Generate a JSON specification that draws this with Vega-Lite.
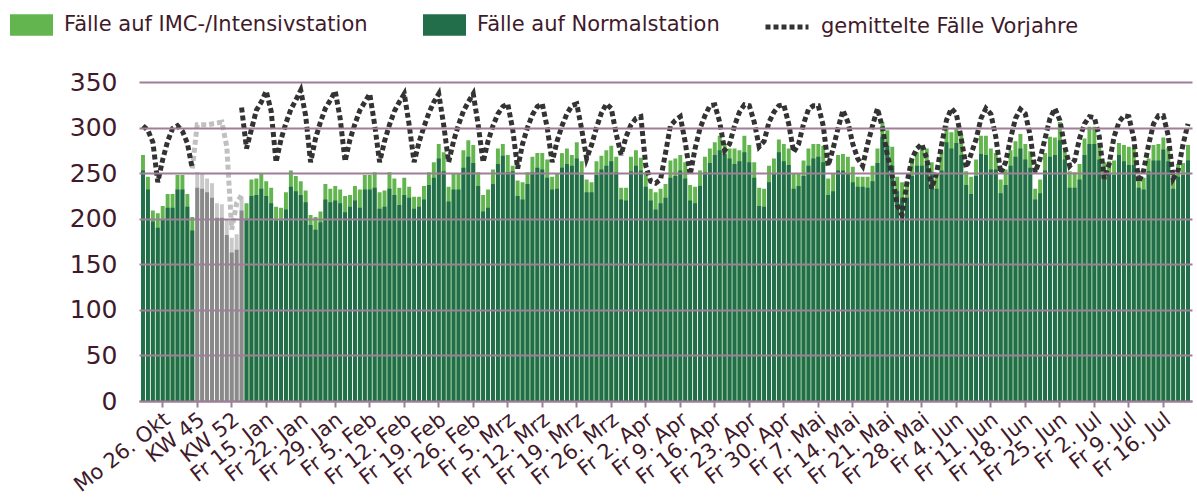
{
  "$schema": "https://vega.github.io/schema/vega-lite/v6.json",
  "width": 1053,
  "height": 319,
  "autosize": {"type": "none"},
  "padding": {"left": 139, "top": 82, "right": 5, "bottom": 96},
  "background": "white",
  "config": {
    "view": {"stroke": null},
    "font": "DejaVu Sans",
    "axis": {"labelFont": "DejaVu Sans", "labelColor": "#3f1a2b"},
    "legend": {"labelFont": "DejaVu Sans", "labelColor": "#3f1a2b"}
  },
  "data": {"values": [
    {"i":0,"tag":"Do 22. Okt","art":"Tag","normal":253,"gesamt":270,"vj":302,"vjg":null},
    {"i":1,"tag":"Fr 23. Okt","art":"Tag","normal":232,"gesamt":246,"vj":297,"vjg":null},
    {"i":2,"tag":"Sa 24. Okt","art":"Tag","normal":197,"gesamt":209,"vj":284,"vjg":null},
    {"i":3,"tag":"So 25. Okt","art":"Tag","normal":190,"gesamt":206,"vj":240,"vjg":null},
    {"i":4,"tag":"Mo 26. Okt","art":"Tag","normal":199,"gesamt":214,"vj":265,"vjg":null},
    {"i":5,"tag":"Di 27. Okt","art":"Tag","normal":212,"gesamt":227,"vj":285,"vjg":null},
    {"i":6,"tag":"Mi 28. Okt","art":"Tag","normal":212,"gesamt":227,"vj":299,"vjg":null},
    {"i":7,"tag":"Do 29. Okt","art":"Tag","normal":232,"gesamt":248,"vj":302,"vjg":null},
    {"i":8,"tag":"Fr 30. Okt","art":"Tag","normal":232,"gesamt":248,"vj":296,"vjg":null},
    {"i":9,"tag":"Sa 31. Okt","art":"Tag","normal":213,"gesamt":227,"vj":283,"vjg":null},
    {"i":10,"tag":"So 1. Nov","art":"Tag","normal":187,"gesamt":202,"vj":255,"vjg":255},
    {"i":11,"tag":"KW 45","art":"KW","normal":234,"gesamt":251,"vj":null,"vjg":303},
    {"i":12,"tag":"KW 46","art":"KW","normal":233,"gesamt":249,"vj":null,"vjg":303},
    {"i":13,"tag":"KW 47","art":"KW","normal":229,"gesamt":244,"vj":null,"vjg":303},
    {"i":14,"tag":"KW 48","art":"KW","normal":223,"gesamt":239,"vj":null,"vjg":304},
    {"i":15,"tag":"KW 49","art":"KW","normal":201,"gesamt":217,"vj":null,"vjg":305},
    {"i":16,"tag":"KW 50","art":"KW","normal":201,"gesamt":216,"vj":null,"vjg":306},
    {"i":17,"tag":"KW 51","art":"KW","normal":182,"gesamt":199,"vj":null,"vjg":279},
    {"i":18,"tag":"KW 52","art":"KW","normal":163,"gesamt":179,"vj":null,"vjg":188},
    {"i":19,"tag":"KW 53","art":"KW","normal":166,"gesamt":183,"vj":null,"vjg":217},
    {"i":20,"tag":"KW 1","art":"KW","normal":209,"gesamt":224,"vj":322,"vjg":226},
    {"i":21,"tag":"Mo 11. Jan","art":"Tag","normal":200,"gesamt":217,"vj":277,"vjg":null},
    {"i":22,"tag":"Di 12. Jan","art":"Tag","normal":225,"gesamt":243,"vj":298,"vjg":null},
    {"i":23,"tag":"Mi 13. Jan","art":"Tag","normal":226,"gesamt":244,"vj":319,"vjg":null},
    {"i":24,"tag":"Do 14. Jan","art":"Tag","normal":233,"gesamt":250,"vj":328,"vjg":null},
    {"i":25,"tag":"Fr 15. Jan","art":"Tag","normal":225,"gesamt":241,"vj":340,"vjg":null},
    {"i":26,"tag":"Sa 16. Jan","art":"Tag","normal":217,"gesamt":234,"vj":318,"vjg":null},
    {"i":27,"tag":"So 17. Jan","art":"Tag","normal":198,"gesamt":213,"vj":262,"vjg":null},
    {"i":28,"tag":"Mo 18. Jan","art":"Tag","normal":198,"gesamt":212,"vj":287,"vjg":null},
    {"i":29,"tag":"Di 19. Jan","art":"Tag","normal":210,"gesamt":229,"vj":305,"vjg":null},
    {"i":30,"tag":"Mi 20. Jan","art":"Tag","normal":235,"gesamt":253,"vj":320,"vjg":null},
    {"i":31,"tag":"Do 21. Jan","art":"Tag","normal":230,"gesamt":247,"vj":330,"vjg":null},
    {"i":32,"tag":"Fr 22. Jan","art":"Tag","normal":226,"gesamt":241,"vj":341,"vjg":null},
    {"i":33,"tag":"Sa 23. Jan","art":"Tag","normal":218,"gesamt":231,"vj":313,"vjg":null},
    {"i":34,"tag":"So 24. Jan","art":"Tag","normal":193,"gesamt":204,"vj":262,"vjg":null},
    {"i":35,"tag":"Mo 25. Jan","art":"Tag","normal":188,"gesamt":202,"vj":288,"vjg":null},
    {"i":36,"tag":"Di 26. Jan","art":"Tag","normal":196,"gesamt":208,"vj":306,"vjg":null},
    {"i":37,"tag":"Mi 27. Jan","art":"Tag","normal":221,"gesamt":238,"vj":321,"vjg":null},
    {"i":38,"tag":"Do 28. Jan","art":"Tag","normal":218,"gesamt":233,"vj":330,"vjg":null},
    {"i":39,"tag":"Fr 29. Jan","art":"Tag","normal":220,"gesamt":236,"vj":340,"vjg":null},
    {"i":40,"tag":"Sa 30. Jan","art":"Tag","normal":217,"gesamt":232,"vj":310,"vjg":null},
    {"i":41,"tag":"So 31. Jan","art":"Tag","normal":207,"gesamt":225,"vj":263,"vjg":null},
    {"i":42,"tag":"Mo 1. Feb","art":"Tag","normal":213,"gesamt":226,"vj":287,"vjg":null},
    {"i":43,"tag":"Di 2. Feb","art":"Tag","normal":220,"gesamt":236,"vj":304,"vjg":null},
    {"i":44,"tag":"Mi 3. Feb","art":"Tag","normal":212,"gesamt":232,"vj":319,"vjg":null},
    {"i":45,"tag":"Do 4. Feb","art":"Tag","normal":232,"gesamt":248,"vj":328,"vjg":null},
    {"i":46,"tag":"Fr 5. Feb","art":"Tag","normal":232,"gesamt":248,"vj":337,"vjg":null},
    {"i":47,"tag":"Sa 6. Feb","art":"Tag","normal":234,"gesamt":251,"vj":303,"vjg":null},
    {"i":48,"tag":"So 7. Feb","art":"Tag","normal":211,"gesamt":229,"vj":262,"vjg":null},
    {"i":49,"tag":"Mo 8. Feb","art":"Tag","normal":213,"gesamt":231,"vj":285,"vjg":null},
    {"i":50,"tag":"Di 9. Feb","art":"Tag","normal":233,"gesamt":251,"vj":303,"vjg":null},
    {"i":51,"tag":"Mi 10. Feb","art":"Tag","normal":226,"gesamt":244,"vj":318,"vjg":null},
    {"i":52,"tag":"Do 11. Feb","art":"Tag","normal":215,"gesamt":234,"vj":328,"vjg":null},
    {"i":53,"tag":"Fr 12. Feb","art":"Tag","normal":226,"gesamt":245,"vj":337,"vjg":null},
    {"i":54,"tag":"Sa 13. Feb","art":"Tag","normal":223,"gesamt":235,"vj":303,"vjg":null},
    {"i":55,"tag":"So 14. Feb","art":"Tag","normal":211,"gesamt":224,"vj":262,"vjg":null},
    {"i":56,"tag":"Mo 15. Feb","art":"Tag","normal":213,"gesamt":224,"vj":284,"vjg":null},
    {"i":57,"tag":"Di 16. Feb","art":"Tag","normal":221,"gesamt":236,"vj":301,"vjg":null},
    {"i":58,"tag":"Mi 17. Feb","art":"Tag","normal":237,"gesamt":251,"vj":316,"vjg":null},
    {"i":59,"tag":"Do 18. Feb","art":"Tag","normal":245,"gesamt":262,"vj":328,"vjg":null},
    {"i":60,"tag":"Fr 19. Feb","art":"Tag","normal":266,"gesamt":282,"vj":337,"vjg":null},
    {"i":61,"tag":"Sa 20. Feb","art":"Tag","normal":252,"gesamt":273,"vj":303,"vjg":null},
    {"i":62,"tag":"So 21. Feb","art":"Tag","normal":219,"gesamt":235,"vj":262,"vjg":null},
    {"i":63,"tag":"Mo 22. Feb","art":"Tag","normal":232,"gesamt":249,"vj":285,"vjg":null},
    {"i":64,"tag":"Di 23. Feb","art":"Tag","normal":232,"gesamt":250,"vj":303,"vjg":null},
    {"i":65,"tag":"Mi 24. Feb","art":"Tag","normal":256,"gesamt":275,"vj":318,"vjg":null},
    {"i":66,"tag":"Do 25. Feb","art":"Tag","normal":268,"gesamt":286,"vj":328,"vjg":null},
    {"i":67,"tag":"Fr 26. Feb","art":"Tag","normal":261,"gesamt":281,"vj":337,"vjg":null},
    {"i":68,"tag":"Sa 27. Feb","art":"Tag","normal":236,"gesamt":251,"vj":303,"vjg":null},
    {"i":69,"tag":"So 28. Feb","art":"Tag","normal":208,"gesamt":226,"vj":262,"vjg":null},
    {"i":70,"tag":"Mo 1. Mrz","art":"Tag","normal":212,"gesamt":232,"vj":285,"vjg":null},
    {"i":71,"tag":"Di 2. Mrz","art":"Tag","normal":238,"gesamt":254,"vj":302,"vjg":null},
    {"i":72,"tag":"Mi 3. Mrz","art":"Tag","normal":260,"gesamt":277,"vj":315,"vjg":null},
    {"i":73,"tag":"Do 4. Mrz","art":"Tag","normal":269,"gesamt":282,"vj":323,"vjg":null},
    {"i":74,"tag":"Fr 5. Mrz","art":"Tag","normal":251,"gesamt":270,"vj":326,"vjg":null},
    {"i":75,"tag":"Sa 6. Mrz","art":"Tag","normal":252,"gesamt":258,"vj":298,"vjg":null},
    {"i":76,"tag":"So 7. Mrz","art":"Tag","normal":225,"gesamt":242,"vj":255,"vjg":null},
    {"i":77,"tag":"Mo 8. Mrz","art":"Tag","normal":221,"gesamt":240,"vj":282,"vjg":null},
    {"i":78,"tag":"Di 9. Mrz","art":"Tag","normal":238,"gesamt":251,"vj":300,"vjg":null},
    {"i":79,"tag":"Mi 10. Mrz","art":"Tag","normal":251,"gesamt":268,"vj":314,"vjg":null},
    {"i":80,"tag":"Do 11. Mrz","art":"Tag","normal":256,"gesamt":272,"vj":323,"vjg":null},
    {"i":81,"tag":"Fr 12. Mrz","art":"Tag","normal":254,"gesamt":272,"vj":326,"vjg":null},
    {"i":82,"tag":"Sa 13. Mrz","art":"Tag","normal":245,"gesamt":265,"vj":300,"vjg":null},
    {"i":83,"tag":"So 14. Mrz","art":"Tag","normal":232,"gesamt":246,"vj":262,"vjg":null},
    {"i":84,"tag":"Mo 15. Mrz","art":"Tag","normal":233,"gesamt":250,"vj":285,"vjg":null},
    {"i":85,"tag":"Di 16. Mrz","art":"Tag","normal":256,"gesamt":272,"vj":302,"vjg":null},
    {"i":86,"tag":"Mi 17. Mrz","art":"Tag","normal":260,"gesamt":277,"vj":315,"vjg":null},
    {"i":87,"tag":"Do 18. Mrz","art":"Tag","normal":258,"gesamt":270,"vj":324,"vjg":null},
    {"i":88,"tag":"Fr 19. Mrz","art":"Tag","normal":266,"gesamt":284,"vj":326,"vjg":null},
    {"i":89,"tag":"Sa 20. Mrz","art":"Tag","normal":248,"gesamt":263,"vj":298,"vjg":null},
    {"i":90,"tag":"So 21. Mrz","art":"Tag","normal":229,"gesamt":243,"vj":266,"vjg":null},
    {"i":91,"tag":"Mo 22. Mrz","art":"Tag","normal":229,"gesamt":240,"vj":281,"vjg":null},
    {"i":92,"tag":"Di 23. Mrz","art":"Tag","normal":248,"gesamt":263,"vj":300,"vjg":null},
    {"i":93,"tag":"Mi 24. Mrz","art":"Tag","normal":254,"gesamt":269,"vj":316,"vjg":null},
    {"i":94,"tag":"Do 25. Mrz","art":"Tag","normal":258,"gesamt":275,"vj":326,"vjg":null},
    {"i":95,"tag":"Fr 26. Mrz","art":"Tag","normal":263,"gesamt":280,"vj":321,"vjg":null},
    {"i":96,"tag":"Sa 27. Mrz","art":"Tag","normal":251,"gesamt":268,"vj":293,"vjg":null},
    {"i":97,"tag":"So 28. Mrz","art":"Tag","normal":221,"gesamt":234,"vj":270,"vjg":null},
    {"i":98,"tag":"Mo 29. Mrz","art":"Tag","normal":220,"gesamt":234,"vj":290,"vjg":null},
    {"i":99,"tag":"Di 30. Mrz","art":"Tag","normal":252,"gesamt":268,"vj":303,"vjg":null},
    {"i":100,"tag":"Mi 31. Mrz","art":"Tag","normal":258,"gesamt":275,"vj":310,"vjg":null},
    {"i":101,"tag":"Do 1. Apr","art":"Tag","normal":253,"gesamt":267,"vj":312,"vjg":null},
    {"i":102,"tag":"Fr 2. Apr","art":"Tag","normal":235,"gesamt":251,"vj":258,"vjg":null},
    {"i":103,"tag":"Sa 3. Apr","art":"Tag","normal":220,"gesamt":233,"vj":241,"vjg":null},
    {"i":104,"tag":"So 4. Apr","art":"Tag","normal":210,"gesamt":229,"vj":239,"vjg":null},
    {"i":105,"tag":"Mo 5. Apr","art":"Tag","normal":217,"gesamt":233,"vj":243,"vjg":null},
    {"i":106,"tag":"Di 6. Apr","art":"Tag","normal":223,"gesamt":238,"vj":272,"vjg":null},
    {"i":107,"tag":"Mi 7. Apr","art":"Tag","normal":245,"gesamt":264,"vj":302,"vjg":null},
    {"i":108,"tag":"Do 8. Apr","art":"Tag","normal":247,"gesamt":266,"vj":308,"vjg":null},
    {"i":109,"tag":"Fr 9. Apr","art":"Tag","normal":253,"gesamt":270,"vj":312,"vjg":null},
    {"i":110,"tag":"Sa 10. Apr","art":"Tag","normal":244,"gesamt":262,"vj":284,"vjg":null},
    {"i":111,"tag":"So 11. Apr","art":"Tag","normal":220,"gesamt":237,"vj":248,"vjg":null},
    {"i":112,"tag":"Mo 12. Apr","art":"Tag","normal":217,"gesamt":235,"vj":277,"vjg":null},
    {"i":113,"tag":"Di 13. Apr","art":"Tag","normal":236,"gesamt":253,"vj":299,"vjg":null},
    {"i":114,"tag":"Mi 14. Apr","art":"Tag","normal":251,"gesamt":268,"vj":313,"vjg":null},
    {"i":115,"tag":"Do 15. Apr","art":"Tag","normal":261,"gesamt":277,"vj":324,"vjg":null},
    {"i":116,"tag":"Fr 16. Apr","art":"Tag","normal":270,"gesamt":284,"vj":325,"vjg":null},
    {"i":117,"tag":"Sa 17. Apr","art":"Tag","normal":275,"gesamt":291,"vj":306,"vjg":null},
    {"i":118,"tag":"So 18. Apr","art":"Tag","normal":271,"gesamt":282,"vj":275,"vjg":null},
    {"i":119,"tag":"Mo 19. Apr","art":"Tag","normal":266,"gesamt":277,"vj":282,"vjg":null},
    {"i":120,"tag":"Di 20. Apr","art":"Tag","normal":260,"gesamt":277,"vj":302,"vjg":null},
    {"i":121,"tag":"Mi 21. Apr","art":"Tag","normal":263,"gesamt":275,"vj":317,"vjg":null},
    {"i":122,"tag":"Do 22. Apr","art":"Tag","normal":273,"gesamt":291,"vj":325,"vjg":null},
    {"i":123,"tag":"Fr 23. Apr","art":"Tag","normal":262,"gesamt":281,"vj":324,"vjg":null},
    {"i":124,"tag":"Sa 24. Apr","art":"Tag","normal":245,"gesamt":262,"vj":306,"vjg":null},
    {"i":125,"tag":"So 25. Apr","art":"Tag","normal":214,"gesamt":234,"vj":279,"vjg":null},
    {"i":126,"tag":"Mo 26. Apr","art":"Tag","normal":213,"gesamt":233,"vj":285,"vjg":null},
    {"i":127,"tag":"Di 27. Apr","art":"Tag","normal":240,"gesamt":258,"vj":306,"vjg":null},
    {"i":128,"tag":"Mi 28. Apr","art":"Tag","normal":249,"gesamt":266,"vj":317,"vjg":null},
    {"i":129,"tag":"Do 29. Apr","art":"Tag","normal":273,"gesamt":287,"vj":324,"vjg":null},
    {"i":130,"tag":"Fr 30. Apr","art":"Tag","normal":263,"gesamt":282,"vj":325,"vjg":null},
    {"i":131,"tag":"Sa 1. Mai","art":"Tag","normal":259,"gesamt":277,"vj":304,"vjg":null},
    {"i":132,"tag":"So 2. Mai","art":"Tag","normal":233,"gesamt":249,"vj":273,"vjg":null},
    {"i":133,"tag":"Mo 3. Mai","art":"Tag","normal":236,"gesamt":250,"vj":282,"vjg":null},
    {"i":134,"tag":"Di 4. Mai","art":"Tag","normal":247,"gesamt":264,"vj":304,"vjg":null},
    {"i":135,"tag":"Mi 5. Mai","art":"Tag","normal":258,"gesamt":277,"vj":320,"vjg":null},
    {"i":136,"tag":"Do 6. Mai","art":"Tag","normal":266,"gesamt":282,"vj":324,"vjg":null},
    {"i":137,"tag":"Fr 7. Mai","art":"Tag","normal":268,"gesamt":282,"vj":324,"vjg":null},
    {"i":138,"tag":"Sa 8. Mai","art":"Tag","normal":262,"gesamt":280,"vj":302,"vjg":null},
    {"i":139,"tag":"So 9. Mai","art":"Tag","normal":226,"gesamt":244,"vj":258,"vjg":null},
    {"i":140,"tag":"Mo 10. Mai","art":"Tag","normal":230,"gesamt":249,"vj":277,"vjg":null},
    {"i":141,"tag":"Di 11. Mai","art":"Tag","normal":253,"gesamt":270,"vj":299,"vjg":null},
    {"i":142,"tag":"Mi 12. Mai","art":"Tag","normal":253,"gesamt":271,"vj":319,"vjg":null},
    {"i":143,"tag":"Do 13. Mai","art":"Tag","normal":250,"gesamt":268,"vj":306,"vjg":null},
    {"i":144,"tag":"Fr 14. Mai","art":"Tag","normal":240,"gesamt":257,"vj":282,"vjg":null},
    {"i":145,"tag":"Sa 15. Mai","art":"Tag","normal":235,"gesamt":246,"vj":266,"vjg":null},
    {"i":146,"tag":"So 16. Mai","art":"Tag","normal":235,"gesamt":246,"vj":258,"vjg":null},
    {"i":147,"tag":"Mo 17. Mai","art":"Tag","normal":234,"gesamt":246,"vj":282,"vjg":null},
    {"i":148,"tag":"Di 18. Mai","art":"Tag","normal":241,"gesamt":258,"vj":302,"vjg":null},
    {"i":149,"tag":"Mi 19. Mai","art":"Tag","normal":261,"gesamt":277,"vj":321,"vjg":null},
    {"i":150,"tag":"Do 20. Mai","art":"Tag","normal":290,"gesamt":306,"vj":300,"vjg":null},
    {"i":151,"tag":"Fr 21. Mai","art":"Tag","normal":280,"gesamt":297,"vj":270,"vjg":null},
    {"i":152,"tag":"Sa 22. Mai","art":"Tag","normal":258,"gesamt":279,"vj":247,"vjg":null},
    {"i":153,"tag":"So 23. Mai","art":"Tag","normal":230,"gesamt":246,"vj":215,"vjg":null},
    {"i":154,"tag":"Mo 24. Mai","art":"Tag","normal":223,"gesamt":240,"vj":204,"vjg":null},
    {"i":155,"tag":"Di 25. Mai","art":"Tag","normal":223,"gesamt":241,"vj":240,"vjg":null},
    {"i":156,"tag":"Mi 26. Mai","art":"Tag","normal":247,"gesamt":266,"vj":266,"vjg":null},
    {"i":157,"tag":"Do 27. Mai","art":"Tag","normal":258,"gesamt":273,"vj":277,"vjg":null},
    {"i":158,"tag":"Fr 28. Mai","art":"Tag","normal":258,"gesamt":277,"vj":282,"vjg":null},
    {"i":159,"tag":"Sa 29. Mai","art":"Tag","normal":260,"gesamt":277,"vj":266,"vjg":null},
    {"i":160,"tag":"So 30. Mai","art":"Tag","normal":251,"gesamt":262,"vj":233,"vjg":null},
    {"i":161,"tag":"Mo 31. Mai","art":"Tag","normal":233,"gesamt":248,"vj":250,"vjg":null},
    {"i":162,"tag":"Di 1. Jun","art":"Tag","normal":253,"gesamt":274,"vj":281,"vjg":null},
    {"i":163,"tag":"Mi 2. Jun","art":"Tag","normal":284,"gesamt":302,"vj":308,"vjg":null},
    {"i":164,"tag":"Do 3. Jun","art":"Tag","normal":277,"gesamt":295,"vj":321,"vjg":null},
    {"i":165,"tag":"Fr 4. Jun","art":"Tag","normal":283,"gesamt":299,"vj":315,"vjg":null},
    {"i":166,"tag":"Sa 5. Jun","art":"Tag","normal":270,"gesamt":292,"vj":288,"vjg":null},
    {"i":167,"tag":"So 6. Jun","art":"Tag","normal":237,"gesamt":252,"vj":256,"vjg":null},
    {"i":168,"tag":"Mo 7. Jun","art":"Tag","normal":227,"gesamt":246,"vj":271,"vjg":null},
    {"i":169,"tag":"Di 8. Jun","art":"Tag","normal":247,"gesamt":265,"vj":287,"vjg":null},
    {"i":170,"tag":"Mi 9. Jun","art":"Tag","normal":271,"gesamt":291,"vj":310,"vjg":null},
    {"i":171,"tag":"Do 10. Jun","art":"Tag","normal":270,"gesamt":291,"vj":321,"vjg":null},
    {"i":172,"tag":"Fr 11. Jun","art":"Tag","normal":254,"gesamt":277,"vj":315,"vjg":null},
    {"i":173,"tag":"Sa 12. Jun","art":"Tag","normal":254,"gesamt":272,"vj":290,"vjg":null},
    {"i":174,"tag":"So 13. Jun","art":"Tag","normal":228,"gesamt":243,"vj":250,"vjg":null},
    {"i":175,"tag":"Mo 14. Jun","art":"Tag","normal":237,"gesamt":254,"vj":262,"vjg":null},
    {"i":176,"tag":"Di 15. Jun","art":"Tag","normal":258,"gesamt":275,"vj":288,"vjg":null},
    {"i":177,"tag":"Mi 16. Jun","art":"Tag","normal":268,"gesamt":285,"vj":310,"vjg":null},
    {"i":178,"tag":"Do 17. Jun","art":"Tag","normal":277,"gesamt":293,"vj":320,"vjg":null},
    {"i":179,"tag":"Fr 18. Jun","art":"Tag","normal":265,"gesamt":282,"vj":315,"vjg":null},
    {"i":180,"tag":"Sa 19. Jun","art":"Tag","normal":256,"gesamt":274,"vj":291,"vjg":null},
    {"i":181,"tag":"So 20. Jun","art":"Tag","normal":221,"gesamt":233,"vj":251,"vjg":null},
    {"i":182,"tag":"Mo 21. Jun","art":"Tag","normal":228,"gesamt":243,"vj":266,"vjg":null},
    {"i":183,"tag":"Di 22. Jun","art":"Tag","normal":253,"gesamt":272,"vj":288,"vjg":null},
    {"i":184,"tag":"Mi 23. Jun","art":"Tag","normal":268,"gesamt":290,"vj":310,"vjg":null},
    {"i":185,"tag":"Do 24. Jun","art":"Tag","normal":270,"gesamt":289,"vj":321,"vjg":null},
    {"i":186,"tag":"Fr 25. Jun","art":"Tag","normal":286,"gesamt":306,"vj":308,"vjg":null},
    {"i":187,"tag":"Sa 26. Jun","art":"Tag","normal":265,"gesamt":275,"vj":279,"vjg":null},
    {"i":188,"tag":"So 27. Jun","art":"Tag","normal":234,"gesamt":252,"vj":258,"vjg":null},
    {"i":189,"tag":"Mo 28. Jun","art":"Tag","normal":234,"gesamt":251,"vj":264,"vjg":null},
    {"i":190,"tag":"Di 29. Jun","art":"Tag","normal":243,"gesamt":260,"vj":288,"vjg":null},
    {"i":191,"tag":"Mi 30. Jun","art":"Tag","normal":270,"gesamt":288,"vj":304,"vjg":null},
    {"i":192,"tag":"Do 1. Jul","art":"Tag","normal":282,"gesamt":301,"vj":312,"vjg":null},
    {"i":193,"tag":"Fr 2. Jul","art":"Tag","normal":282,"gesamt":301,"vj":311,"vjg":null},
    {"i":194,"tag":"Sa 3. Jul","art":"Tag","normal":265,"gesamt":283,"vj":290,"vjg":null},
    {"i":195,"tag":"So 4. Jul","art":"Tag","normal":246,"gesamt":262,"vj":244,"vjg":null},
    {"i":196,"tag":"Mo 5. Jul","art":"Tag","normal":249,"gesamt":263,"vj":260,"vjg":null},
    {"i":197,"tag":"Di 6. Jul","art":"Tag","normal":248,"gesamt":264,"vj":290,"vjg":null},
    {"i":198,"tag":"Mi 7. Jul","art":"Tag","normal":270,"gesamt":283,"vj":306,"vjg":null},
    {"i":199,"tag":"Do 8. Jul","art":"Tag","normal":263,"gesamt":281,"vj":313,"vjg":null},
    {"i":200,"tag":"Fr 9. Jul","art":"Tag","normal":259,"gesamt":279,"vj":312,"vjg":null},
    {"i":201,"tag":"Sa 10. Jul","art":"Tag","normal":259,"gesamt":278,"vj":288,"vjg":null},
    {"i":202,"tag":"So 11. Jul","art":"Tag","normal":234,"gesamt":248,"vj":240,"vjg":null},
    {"i":203,"tag":"Mo 12. Jul","art":"Tag","normal":232,"gesamt":245,"vj":253,"vjg":null},
    {"i":204,"tag":"Di 13. Jul","art":"Tag","normal":252,"gesamt":266,"vj":281,"vjg":null},
    {"i":205,"tag":"Mi 14. Jul","art":"Tag","normal":264,"gesamt":281,"vj":304,"vjg":null},
    {"i":206,"tag":"Do 15. Jul","art":"Tag","normal":264,"gesamt":282,"vj":313,"vjg":null},
    {"i":207,"tag":"Fr 16. Jul","art":"Tag","normal":276,"gesamt":289,"vj":313,"vjg":null},
    {"i":208,"tag":"Sa 17. Jul","art":"Tag","normal":263,"gesamt":278,"vj":291,"vjg":null},
    {"i":209,"tag":"So 18. Jul","art":"Tag","normal":233,"gesamt":249,"vj":244,"vjg":null},
    {"i":210,"tag":"Mo 19. Jul","art":"Tag","normal":246,"gesamt":260,"vj":253,"vjg":null},
    {"i":211,"tag":"Di 20. Jul","art":"Tag","normal":248,"gesamt":261,"vj":282,"vjg":null},
    {"i":212,"tag":"Mi 21. Jul","art":"Tag","normal":264,"gesamt":281,"vj":304,"vjg":null}
  ]},
  "encoding": {
    "x": {
      "field": "tag", "type": "nominal",
      "sort": {"field": "i", "op": "min", "order": "ascending"},
      "scale": {"paddingInner": 0.2, "paddingOuter": 0.41},
      "axis": {
        "title": null,
        "values": ["Mo 26. Okt","KW 45","KW 52","Fr 15. Jan","Fr 22. Jan","Fr 29. Jan","Fr 5. Feb","Fr 12. Feb","Fr 19. Feb","Fr 26. Feb","Fr 5. Mrz","Fr 12. Mrz","Fr 19. Mrz","Fr 26. Mrz","Fr 2. Apr","Fr 9. Apr","Fr 16. Apr","Fr 23. Apr","Fr 30. Apr","Fr 7. Mai","Fr 14. Mai","Fr 21. Mai","Fr 28. Mai","Fr 4. Jun","Fr 11. Jun","Fr 18. Jun","Fr 25. Jun","Fr 2. Jul","Fr 9. Jul","Fr 16. Jul"],
        "labelAngle": -38,
        "labelAlign": "right",
        "labelBaseline": "middle",
        "labelFontSize": 21,
        "labelPadding": 10,
        "labelOffset": 5,
        "labelOverlap": false,
        "labelLimit": 0,
        "tickColor": "#9e7f98",
        "tickSize": 6,
        "tickWidth": 2,
        "domainColor": "#9e7f98",
        "domainWidth": 2,
        "grid": false
      }
    }
  },
  "layer": [
    {
      "mark": {"type": "bar"},
      "encoding": {
        "y": {"field": "gesamt", "type": "quantitative", "stack": null,
          "scale": {"domain": [0, 350], "nice": false},
          "axis": {"title": null, "values": [0,50,100,150,200,250,300,350], "domain": false, "ticks": false,
            "grid": true, "gridColor": "#9e7f98", "gridWidth": 2, "labelFontSize": 25, "labelPadding": 22, "zindex": 1}},
        "color": {
          "condition": {"test": "datum.art === 'KW'", "value": "#c9c9c9"},
          "datum": "Fälle auf IMC-/Intensivstation", "type": "nominal",
          "scale": {"domain": ["Fälle auf IMC-/Intensivstation", "Fälle auf Normalstation"], "range": ["#63b64f", "#226e4b"]},
          "legend": {"orient": "none", "legendX": -129, "legendY": -79, "direction": "horizontal", "title": null,
            "symbolType": "M-1,-0.5H1V0.5H-1Z", "symbolSize": 1849, "symbolStrokeWidth": 0, "symbolOpacity": 1,
            "labelFontSize": 21, "labelOffset": 11, "columnPadding": 55, "labelLimit": 0}
        }
      }
    },
    {
      "mark": {"type": "bar"},
      "encoding": {
        "y": {"field": "normal", "type": "quantitative", "stack": null},
        "color": {
          "condition": {"test": "datum.art === 'KW'", "value": "#8a8a8a"},
          "datum": "Fälle auf Normalstation", "type": "nominal"
        }
      }
    },
    {
      "mark": {"type": "line", "color": "#c0c0c0", "strokeWidth": 5, "strokeDash": [5, 3], "invalid": "break-paths-show-domains"},
      "encoding": {
        "y": {"field": "vjg", "type": "quantitative"}
      }
    },
    {
      "mark": {"type": "line", "color": "#333333", "strokeWidth": 5, "invalid": "break-paths-show-domains"},
      "encoding": {
        "y": {"field": "vj", "type": "quantitative"},
        "strokeDash": {
          "datum": "gemittelte Fälle Vorjahre", "type": "nominal",
          "scale": {"domain": ["gemittelte Fälle Vorjahre"], "range": [[5, 3]]},
          "legend": {"orient": "none", "legendX": 624, "legendY": -79, "title": null,
            "symbolType": "stroke", "symbolSize": 1849, "symbolStrokeWidth": 5, "symbolStrokeColor": "#333333",
            "labelFontSize": 21, "labelOffset": 10, "labelLimit": 0}
        }
      }
    }
  ]
}
